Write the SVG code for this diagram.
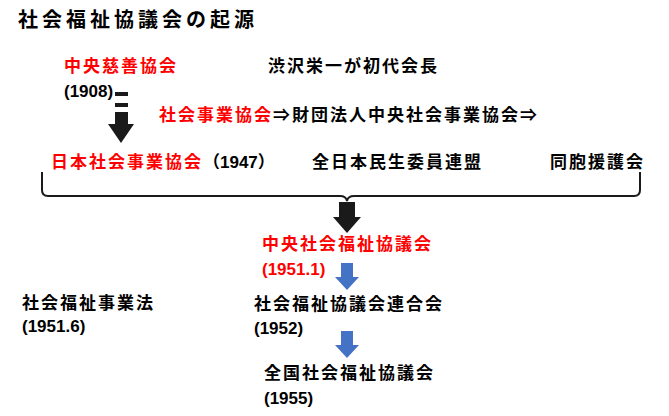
<svg xmlns="http://www.w3.org/2000/svg" width="669" height="416" viewBox="0 0 669 416">
<style>
text{font-family:"Liberation Sans","Noto Sans CJK JP",sans-serif;font-size:17px;font-weight:bold;fill:#000}
.j{letter-spacing:2px}
.r{fill:#f00}
.t{font-size:20px;letter-spacing:4px}
.blk{fill:#1a1a1a}
.blu{fill:#4472c4}
</style>
<rect width="669" height="416" fill="#fff"/>
<text class="t" x="18" y="27">社会福祉協議会の起源</text>
<g id="n1"><text class="r j" x="64" y="72">中央慈善協会</text><text x="64" y="97">(1908)</text></g>
<g id="n2"><text class="j" x="268" y="72">渋沢栄一が初代会長</text></g>
<g id="n3"><text class="j" x="159" y="121"><tspan class="r">社会事業協会</tspan>⇒財団法人中央社会事業協会⇒</text></g>
<g id="n4"><text x="51" y="168"><tspan class="r j">日本社会事業協会</tspan><tspan>（1947）</tspan></text></g>
<g id="n5"><text class="j" x="312" y="168">全日本民生委員連盟</text></g>
<g id="n6"><text class="j" x="550" y="168">同胞援護会</text></g>
<g id="n7"><text class="r j" x="262" y="250">中央社会福祉協議会</text><text class="r" x="262" y="275">(1951.1)</text></g>
<g id="n8"><text class="j" x="22" y="309">社会福祉事業法</text><text x="22" y="332">(1951.6)</text></g>
<g id="n9"><text class="j" x="254" y="310">社会福祉協議会連合会</text><text x="254" y="334">(1952)</text></g>
<g id="n10"><text class="j" x="264" y="379">全国社会福祉協議会</text><text x="264" y="404">(1955)</text></g>
<g id="connectors">
<rect class="blk" x="115" y="92" width="13" height="4"/>
<rect class="blk" x="115" y="103" width="13" height="4"/>
<polygon class="blk" points="115,112 128,112 128,124 134,124 121,143 108,124 115,124"/>
<path d="M42,172 V190 Q42,196 48,196 H340 Q346,196 347,201 Q348,196 354,196 H634 Q640,196 640,190 V172" fill="none" stroke="#1a1a1a" stroke-width="2"/>
<polygon class="blk" points="339,202 355,202 355,217 361,217 347,233 333,217 339,217"/>
<polygon class="blu" points="341,263 353,263 353,277 359,277 347,290 335,277 341,277"/>
<polygon class="blu" points="341,331 353,331 353,345 359,345 347,358 335,345 341,345"/>
</g>
</svg>
